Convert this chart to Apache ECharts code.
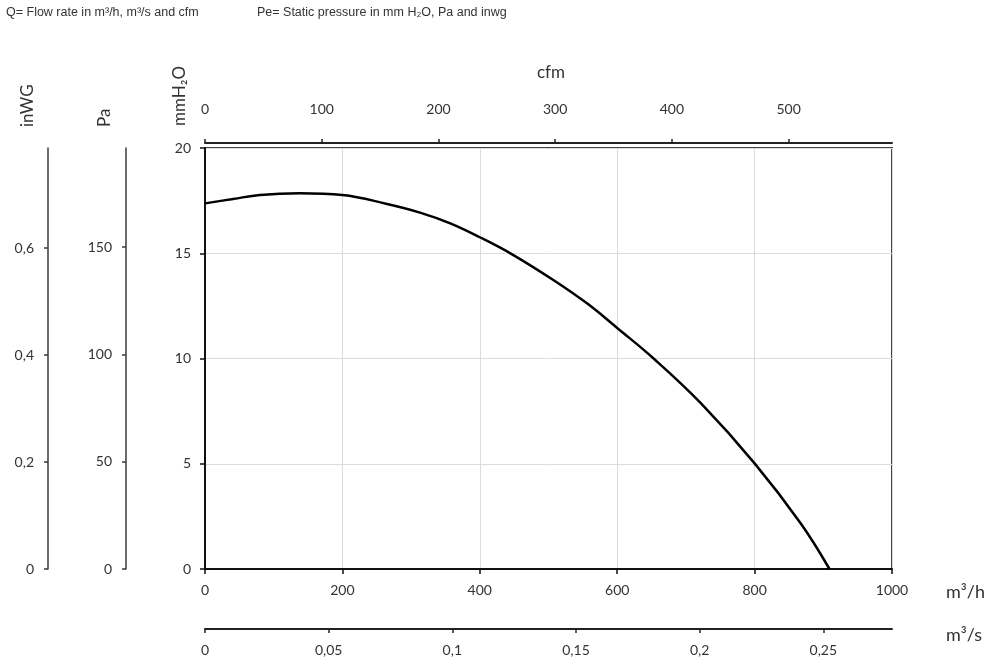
<!DOCTYPE html>
<html>
<head>
<meta charset="utf-8">
<script src="https://cdn.jsdelivr.net/npm/echarts@6/dist/echarts.min.js"></script>
<style>
  html, body { margin: 0; padding: 0; background: #fff; }
  #chart { width: 1001px; height: 671px; }
</style>
</head>
<body>
<div id="chart"></div>
<script>
// fan curve
var flowM3h = [0, 41, 80, 138, 200, 265, 313, 357, 400, 447, 507, 556, 600, 653, 721, 800, 867, 909];
var pressureMm = [17.37, 17.58, 17.77, 17.85, 17.77, 17.34, 16.93, 16.42, 15.76, 14.95, 13.73, 12.62, 11.45, 10.0, 7.9, 5.02, 2.17, 0];

// tick labels of each scale
var m3hTicks = [0, 200, 400, 600, 800, 1000];
var cfmTicks = [0, 100, 200, 300, 400, 500];
var m3sTicks = [0, 0.05, 0.1, 0.15, 0.2, 0.25];
var mmTicks = [0, 5, 10, 15, 20];
var paTicks = [0, 50, 100, 150];
var inwgTicks = [0, 0.2, 0.4, 0.6];

// unit conversions (same range as m3/h 0..1000 and mmH2O 0..20)
var M3H_MAX = 1000, MM_MAX = 20;
var CFM_MAX = M3H_MAX / 1.699;
var M3S_MAX = M3H_MAX / 3600;
var PA_MAX = MM_MAX * 9.80665;
var INWG_MAX = MM_MAX / 25.4;

var lblFont = 'Lato, "Open Sans", sans-serif';
var plain = function (v) { return String(v); };
var comma = function (v) { return String(v).replace('.', ','); };

var myChart = echarts.init(document.getElementById('chart'));

var series_data = [];
for (var i = 0; i < flowM3h.length; i++) {
    series_data.push([flowM3h[i], pressureMm[i]]);
}

function sideAxis(max, ticks, offset, fmt, lineW) {
    return {
        type: 'value',
        position: 'left',
        offset: offset,
        min: 0,
        max: max,
        axisLine: { show: true, onZero: false, lineStyle: { color: '#3a3a3a', width: lineW } },
        axisTick: { show: true, length: 4, customValues: ticks, lineStyle: { color: '#3a3a3a', width: 1.5 } },
        axisLabel: { customValues: ticks, formatter: fmt, margin: 14, color: '#333', fontFamily: lblFont, fontSize: 14 },
        splitLine: { show: false }
    };
}

function rotName(text, x, y) {
    return {
        type: 'text', x: x, y: y, rotation: Math.PI / 2,
        style: { text: text, fill: '#333', font: '17px ' + lblFont, textAlign: 'left', textVerticalAlign: 'middle' }
    };
}

function flatName(text, x, y, size, font) {
    return {
        type: 'text', x: x, y: y,
        style: { text: text, fill: '#333', font: size + 'px ' + font, textAlign: 'left', textVerticalAlign: 'middle' }
    };
}

var option = {
    animation: false,
    backgroundColor: '#fff',
    grid: {
        left: 205,
        right: 109,
        top: 148,
        bottom: 102,
        show: true,
        borderColor: '#444',
        borderWidth: 2
    },
    xAxis: [{
        // m3/h
        type: 'value',
        position: 'bottom',
        min: 0,
        max: M3H_MAX,
        axisLine: { show: true, onZero: false, lineStyle: { color: '#111', width: 2 } },
        axisTick: { show: true, length: 5, customValues: m3hTicks, lineStyle: { color: '#111', width: 1.5 } },
        axisLabel: { customValues: m3hTicks, formatter: plain, margin: 14, color: '#333', fontFamily: lblFont, fontSize: 14 },
        splitLine: { show: true, lineStyle: { color: '#dcdcdc', width: 1 } }
    }, {
        // cfm
        type: 'value',
        position: 'top',
        offset: 5,
        min: 0,
        max: CFM_MAX,
        axisLine: { show: true, onZero: false, lineStyle: { color: '#222', width: 2 } },
        axisTick: { show: true, length: 4, customValues: cfmTicks, lineStyle: { color: '#222', width: 1.5 } },
        axisLabel: { customValues: cfmTicks, formatter: plain, margin: 27, color: '#333', fontFamily: lblFont, fontSize: 14 },
        splitLine: { show: false }
    }, {
        // m3/s
        type: 'value',
        position: 'bottom',
        offset: 60,
        min: 0,
        max: M3S_MAX,
        axisLine: { show: true, onZero: false, lineStyle: { color: '#222', width: 2 } },
        axisTick: { show: true, length: 4, customValues: m3sTicks, lineStyle: { color: '#222', width: 1.5 } },
        axisLabel: { customValues: m3sTicks, formatter: comma, margin: 14, color: '#333', fontFamily: lblFont, fontSize: 14 },
        splitLine: { show: false }
    }],
    yAxis: [{
        // mmH2O
        type: 'value',
        position: 'left',
        min: 0,
        max: MM_MAX,
        axisLine: { show: true, onZero: false, lineStyle: { color: '#111', width: 2 } },
        axisTick: { show: true, length: 5, customValues: mmTicks, lineStyle: { color: '#111', width: 1.5 } },
        axisLabel: { customValues: mmTicks, formatter: plain, margin: 14, color: '#333', fontFamily: lblFont, fontSize: 14 },
        splitLine: { show: true, lineStyle: { color: '#dcdcdc', width: 1 } }
    },
        sideAxis(PA_MAX, paTicks, 79, plain, 1.5),
        sideAxis(INWG_MAX, inwgTicks, 157, comma, 1.5)
    ],
    graphic: [
        flatName('Q= Flow rate in m³/h, m³/s and cfm', 6, 13, 12.5, '"Liberation Sans", Arial, sans-serif'),
        flatName('Pe= Static pressure in mm H₂O, Pa and inwg', 257, 13, 12.5, '"Liberation Sans", Arial, sans-serif'),
        rotName('inWG', 28, 127),
        rotName('Pa', 105, 127),
        rotName('mmH₂O', 180, 126),
        flatName('cfm', 537, 73, 17, lblFont),
        flatName('m³/h', 946, 592, 18, lblFont),
        flatName('m³/s', 946, 635, 18, lblFont)
    ],
    series: [{
        type: 'line',
        xAxisIndex: 0,
        yAxisIndex: 0,
        data: series_data,
        smooth: 0.4,
        symbol: 'none',
        lineStyle: { color: '#000', width: 2.5 }
    }]
};
myChart.setOption(option);
</script>
</body>
</html>
